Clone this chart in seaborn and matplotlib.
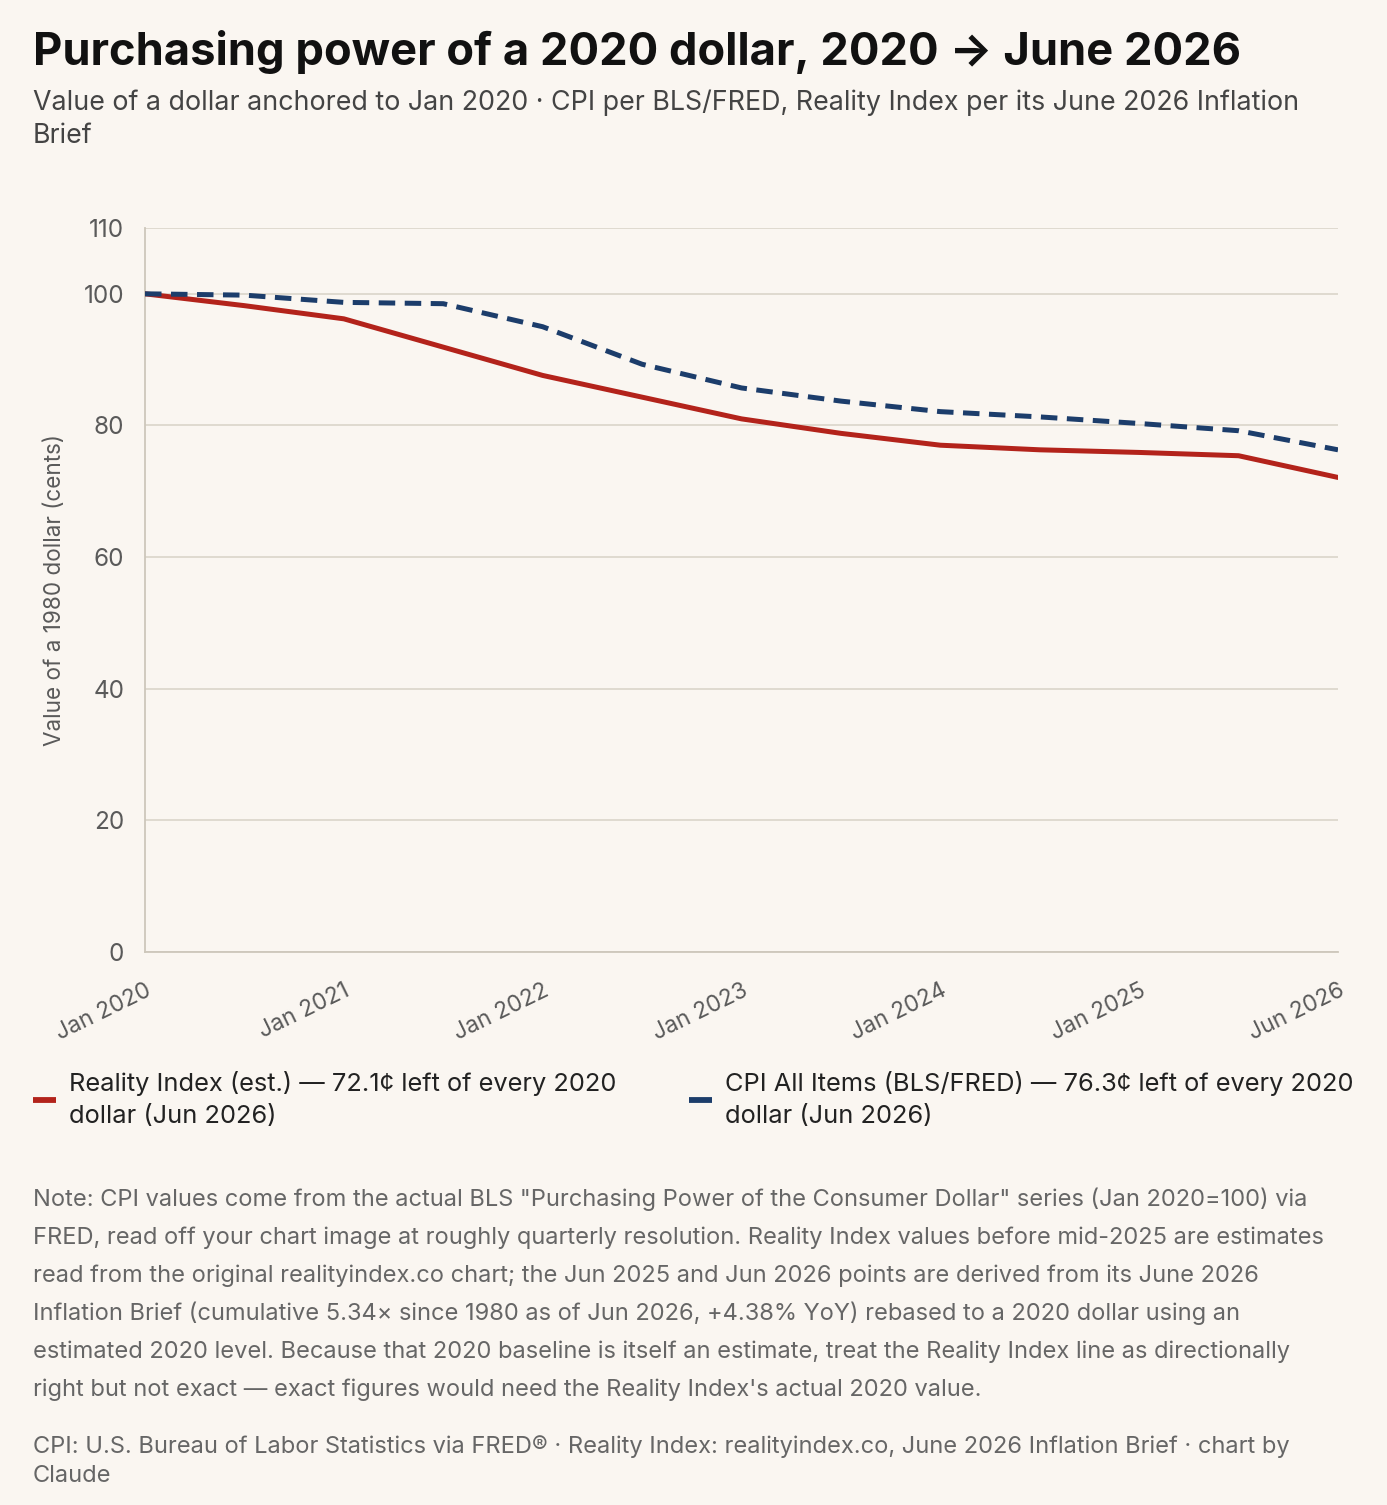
import numpy as np
import pandas as pd
import matplotlib.pyplot as plt
import seaborn as sns
from matplotlib.lines import Line2D

# --- data (Jan 2020 = 100) ---
periods = ["Jan 2020", "Jul 2020", "Jan 2021", "Jul 2021", "Jan 2022", "Jul 2022",
           "Jan 2023", "Jul 2023", "Jan 2024", "Jul 2024", "Jan 2025", "Jun 2025", "Jun 2026"]
reality_index = [100.0, 98.2, 96.2, 91.9, 87.6, 84.3, 81.0, 78.8, 77.0, 76.3, 75.9, 75.4, 72.1]
cpi_all_items = [100.0, 99.8, 98.7, 98.5, 95.0, 89.3, 85.7, 83.7, 82.1, 81.3, 80.3, 79.2, 76.3]
shown_ticks = [0, 2, 4, 6, 8, 10, 12]
y_ticks = [0, 20, 40, 60, 80, 100, 110]

legend_labels = [
    "Reality Index (est.) \u2014 72.1\u00a2 left of every 2020\ndollar (Jun 2026)",
    "CPI All Items (BLS/FRED) \u2014 76.3\u00a2 left of every 2020\ndollar (Jun 2026)",
]
note_lines = [
    'Note: CPI values come from the actual BLS "Purchasing Power of the Consumer Dollar" series (Jan 2020=100) via',
    "FRED, read off your chart image at roughly quarterly resolution. Reality Index values before mid-2025 are estimates",
    "read from the original realityindex.co chart; the Jun 2025 and Jun 2026 points are derived from its June 2026",
    "Inflation Brief (cumulative 5.34\u00d7 since 1980 as of Jun 2026, +4.38% YoY) rebased to a 2020 dollar using an",
    "estimated 2020 level. Because that 2020 baseline is itself an estimate, treat the Reality Index line as directionally",
    "right but not exact \u2014 exact figures would need the Reality Index's actual 2020 value.",
]
source_lines = [
    "CPI: U.S. Bureau of Labor Statistics via FRED\u00ae \u00b7 Reality Index: realityindex.co, June 2026 Inflation Brief \u00b7 chart by",
    "Claude",
]

df = pd.DataFrame({"pos": np.arange(len(periods)), "period": periods,
                   "reality": reality_index, "cpi": cpi_all_items})

# --- style ---
BG = "#faf6f1"
GRID = "#ddd8cd"
RED = "#b3231b"
BLUE = "#1c3d6b"
W, H = 1387, 1505

sns.set_theme(style="white", rc={"figure.facecolor": BG, "axes.facecolor": BG})
plt.rcParams["font.family"] = ["Inter", "DejaVu Sans"]

fig = plt.figure(figsize=(W / 100, H / 100), dpi=100)
ax = fig.add_axes([145 / W, 1 - 952 / H, (1338 - 145) / W, (952 - 228) / H])

sns.lineplot(data=df, x="pos", y="reality", ax=ax, color=RED, linewidth=3.6,
             solid_joinstyle="round", zorder=3)
sns.lineplot(data=df, x="pos", y="cpi", ax=ax, color=BLUE, linewidth=3.6,
             dashes=False, zorder=3)
ax.lines[-1].set_dashes((3.3, 1.9))

ax.set_xlim(0, len(periods) - 1)
ax.set_ylim(0, 110)
ax.set_yticks(y_ticks)
ax.set_xticks(shown_ticks)
ax.set_xticklabels([periods[i] for i in shown_ticks], rotation=26, ha="right",
                   rotation_mode="anchor")
ax.grid(axis="y", color=GRID, linewidth=1.3)
ax.set_axisbelow(True)
ax.tick_params(axis="y", length=9, width=1.3, color=GRID, pad=6, labelsize=17.5, labelcolor="#5a5a5a")
ax.tick_params(axis="x", length=0, pad=20, labelsize=16.5, labelcolor="#5a5a5a")
for side in ["top", "right"]:
    ax.spines[side].set_visible(False)
for side in ["left", "bottom"]:
    ax.spines[side].set_color("#cdc7bb")
    ax.spines[side].set_linewidth(1.3)
ax.set_xlabel("")
ax.set_ylabel("")

fig.text(55 / W, 1 - 590 / H, "Value of a 1980 dollar (cents)", rotation=90,
         ha="center", va="center", fontsize=16.2, color="#5a5a5a")

# --- titles ---
fig.text(33 / W, 1 - 65 / H, "Purchasing power of a 2020 dollar, 2020 \u2192 June 2026",
         fontsize=32.6, fontweight="bold", color="#111111", va="baseline")
fig.text(33 / W, 1 - 110 / H, "Value of a dollar anchored to Jan 2020 \u00b7 CPI per BLS/FRED, Reality Index per its June 2026 Inflation",
         fontsize=19.3, color="#444444", va="baseline")
fig.text(33 / W, 1 - 143 / H, "Brief", fontsize=19.3, color="#444444", va="baseline")

# --- legend (one box per entry, like the reference) ---
for label, color, x0 in [(legend_labels[0], RED, 33), (legend_labels[1], BLUE, 689)]:
    handle = Line2D([0], [0], color=color, linewidth=4.2, solid_capstyle="butt")
    leg = fig.legend([handle], [label], loc="upper left", bbox_to_anchor=(x0 / W, 1 - 1071 / H),
                     frameon=False, borderpad=0, borderaxespad=0, handlelength=0.9,
                     handletextpad=0.5, fontsize=18.3)
    for t in leg.get_texts():
        t.set_color("#222222")
        t.set_linespacing(1.5)

# --- notes ---
for i, line in enumerate(note_lines):
    fig.text(33 / W, 1 - (1206 + i * 38) / H, line, fontsize=17.0, color="#666666", va="baseline")
for i, line in enumerate(source_lines):
    fig.text(33 / W, 1 - (1453 + i * 29) / H, line, fontsize=17.0, color="#666666", va="baseline")

fig.savefig("out.png", dpi=100, facecolor=BG)
